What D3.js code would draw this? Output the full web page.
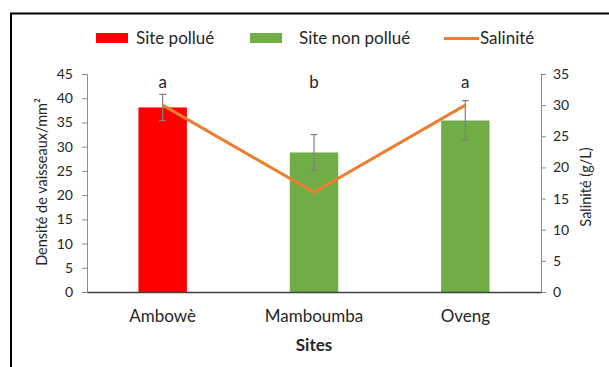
<!DOCTYPE html>
<html>
<head>
<meta charset="utf-8">
<script src="https://cdn.jsdelivr.net/npm/d3@7"></script>
<style>
  html, body { margin: 0; padding: 0; background: #fff; }
  svg { display: block; }
  text { font-family: Lato, "Open Sans", sans-serif; fill: #262626; }
</style>
</head>
<body>
<svg id="chart" width="609" height="367"></svg>
<script>
// Vessel density per site (bars), standard deviation, and salinity (line)
const sites = ["Ambowè", "Mamboumba", "Oveng"];
const density = [38.1, 28.8, 35.4];
const densityErr = [2.7, 3.7, 4.1];
const salinity = [30, 16, 30];
const groups = ["a", "b", "a"];
const siteType = ["Site pollué", "Site non pollué", "Site non pollué"];
const leftTicks = [0, 5, 10, 15, 20, 25, 30, 35, 40, 45];
const rightTicks = [0, 5, 10, 15, 20, 25, 30, 35];

const colors = { "Site pollué": "#ff0000", "Site non pollué": "#70ad47", "Salinité": "#ed7d31" };

const svg = d3.select("#chart");
const m = { left: 87, right: 541, top: 74, bottom: 292 };

// Outer frame
svg.append("rect")
  .attr("x", 11).attr("y", 13.5)
  .attr("width", 620).attr("height", 380)
  .attr("fill", "none").attr("stroke", "#000").attr("stroke-width", 2);

const x = d3.scaleBand().domain(sites).range([m.left, m.right]).paddingInner(0.68).paddingOuter(0.34);
const yL = d3.scaleLinear().domain([0, 45]).range([m.bottom, m.top]);
const yR = d3.scaleLinear().domain([0, 35]).range([m.bottom, m.top]);

// Bars
svg.append("g").selectAll("rect").data(sites).join("rect")
  .attr("x", d => x(d))
  .attr("width", x.bandwidth())
  .attr("y", (d, i) => yL(density[i]))
  .attr("height", (d, i) => yL(0) - yL(density[i]))
  .attr("fill", (d, i) => colors[siteType[i]]);

// Left axis
const gL = svg.append("g").attr("transform", `translate(${m.left},0)`)
  .call(d3.axisLeft(yL).tickValues(leftTicks).tickSize(5).tickPadding(9));
gL.select(".domain").attr("stroke", "#8c8c8c");
gL.selectAll(".tick line").attr("stroke", "#8c8c8c");
gL.selectAll(".tick text").attr("font-size", 14).attr("fill", "#404040").style("font-family", "Lato, sans-serif");

// Right axis
const gR = svg.append("g").attr("transform", `translate(${m.right},0)`)
  .call(d3.axisRight(yR).tickValues(rightTicks).tickSize(5).tickPadding(7));
gR.select(".domain").attr("stroke", "#8c8c8c");
gR.selectAll(".tick line").attr("stroke", "#8c8c8c");
gR.selectAll(".tick text").attr("font-size", 14).attr("fill", "#404040").style("font-family", "Lato, sans-serif");

// Bottom axis
const gB = svg.append("g").attr("transform", `translate(0,${m.bottom})`)
  .call(d3.axisBottom(x).tickSize(0).tickPadding(18));
gB.select(".domain").attr("stroke", "#404040").attr("stroke-width", 1.3);
gB.selectAll(".tick text").attr("font-size", 17).attr("fill", "#262626").style("font-family", "Lato, sans-serif");

// Error bars
const eb = svg.append("g").attr("stroke", "#7f7f7f").attr("stroke-width", 1.2);
sites.forEach((s, i) => {
  const cx = x(s) + x.bandwidth() / 2;
  const y1 = yL(density[i] + densityErr[i]), y2 = yL(density[i] - densityErr[i]);
  eb.append("line").attr("x1", cx).attr("x2", cx).attr("y1", y1).attr("y2", y2);
  eb.append("line").attr("x1", cx - 3.5).attr("x2", cx + 3.5).attr("y1", y1).attr("y2", y1);
  eb.append("line").attr("x1", cx - 3.5).attr("x2", cx + 3.5).attr("y1", y2).attr("y2", y2);
});

// Salinity line
const line = d3.line().x((d, i) => x(sites[i]) + x.bandwidth() / 2).y(d => yR(d));
svg.append("path").datum(salinity)
  .attr("d", line).attr("fill", "none")
  .attr("stroke", colors["Salinité"]).attr("stroke-width", 3);

// Group letters
svg.append("g").selectAll("text").data(sites).join("text")
  .attr("x", d => x(d) + x.bandwidth() / 2)
  .attr("y", 88)
  .attr("text-anchor", "middle")
  .attr("font-size", 17)
  .text((d, i) => groups[i]);

// Axis titles
svg.append("text")
  .attr("transform", `translate(47,182) rotate(-90)`)
  .attr("text-anchor", "middle").attr("font-size", 14.5)
  .text("Densité de vaisseaux/mm²");
svg.append("text")
  .attr("transform", `translate(591,187) rotate(-90)`)
  .attr("text-anchor", "middle").attr("font-size", 14.5)
  .text("Salinité (g/L)");
svg.append("text")
  .attr("x", (m.left + m.right) / 2).attr("y", 351)
  .attr("text-anchor", "middle").attr("font-size", 17).attr("font-weight", "bold")
  .text("Sites");

// Legend
const legend = svg.append("g");
const legendItems = [
  { label: "Site pollué", kind: "rect", x: 96, tx: 136 },
  { label: "Site non pollué", kind: "rect", x: 250, tx: 299 },
  { label: "Salinité", kind: "line", x: 444, tx: 480 }
];
legendItems.forEach(it => {
  if (it.kind === "rect") {
    legend.append("rect").attr("x", it.x).attr("y", 33).attr("width", 32).attr("height", 10)
      .attr("fill", colors[it.label]);
  } else {
    legend.append("line").attr("x1", it.x).attr("x2", it.x + 35).attr("y1", 38.5).attr("y2", 38.5)
      .attr("stroke", colors[it.label]).attr("stroke-width", 3);
  }
  legend.append("text").attr("x", it.tx).attr("y", 44).attr("font-size", 17).text(it.label);
});
</script>
</body>
</html>
